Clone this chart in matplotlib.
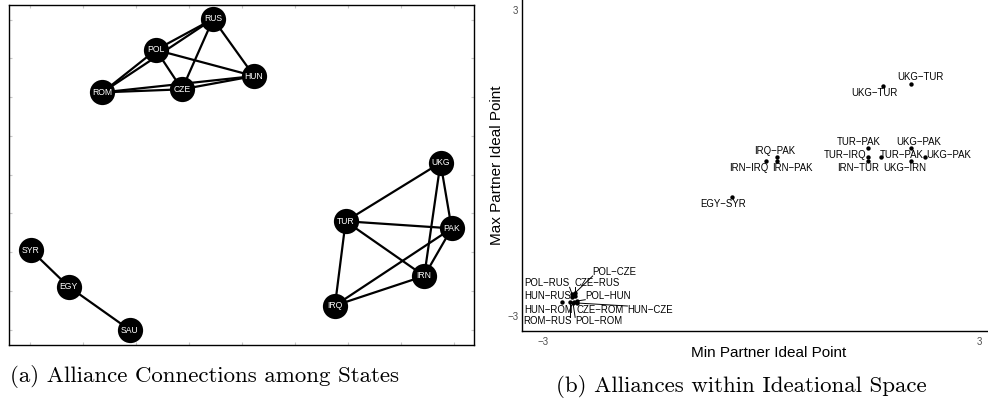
import numpy as np
import matplotlib.pyplot as plt

plt.rcParams['font.family'] = ['Liberation Sans', 'DejaVu Sans']

# ---- alliance network: node layout (normalised) ----
states = ['RUS', 'POL', 'HUN', 'CZE', 'ROM', 'SYR', 'EGY', 'SAU',
          'TUR', 'IRQ', 'UKG', 'PAK', 'IRN']
layout_x = [0.439, 0.316, 0.527, 0.372, 0.201, 0.047, 0.128, 0.260,
            0.724, 0.701, 0.928, 0.952, 0.893]
layout_y = [0.959, 0.868, 0.791, 0.752, 0.743, 0.279, 0.172, 0.044,
            0.364, 0.116, 0.536, 0.343, 0.203]

edges = [('POL', 'CZE'), ('POL', 'RUS'), ('CZE', 'RUS'), ('HUN', 'RUS'),
         ('POL', 'HUN'), ('HUN', 'ROM'), ('CZE', 'ROM'), ('HUN', 'CZE'),
         ('ROM', 'RUS'), ('POL', 'ROM'),
         ('UKG', 'TUR'), ('TUR', 'PAK'), ('UKG', 'PAK'), ('TUR', 'IRQ'),
         ('IRN', 'TUR'), ('UKG', 'IRN'), ('IRQ', 'PAK'), ('IRN', 'PAK'),
         ('IRN', 'IRQ'),
         ('EGY', 'SYR'), ('EGY', 'SAU')]

# ---- alliances in ideal point space ----
dyads = ['UKG−TUR', 'UKG−TUR', 'TUR−PAK', 'UKG−PAK', 'TUR−IRQ', 'TUR−PAK',
         'UKG−PAK', 'IRN−TUR', 'UKG−IRN', 'IRQ−PAK', 'IRN−PAK', 'IRN−IRQ',
         'EGY−SYR', 'POL−CZE', 'POL−RUS', 'CZE−RUS', 'HUN−RUS', 'POL−HUN',
         'CZE−ROM', 'HUN−CZE', 'ROM−RUS', 'POL−ROM', 'HUN−ROM']
min_ideal = [2.06, 1.675, 1.468, 2.06, 1.468, 1.647, 2.257, 1.468, 2.06,
             0.224, 0.224, 0.069, -0.399, -2.560, -2.601, -2.560, -2.601,
             -2.532, -2.573, -2.532, -2.628, -2.587, -2.734]
max_ideal = [1.555, 1.504, 0.288, 0.288, 0.124, 0.118, 0.124, 0.033, 0.033,
             0.124, 0.033, 0.033, -0.673, -2.549, -2.569, -2.608, -2.627,
             -2.706, -2.725, -2.745, -2.725, -2.745, -2.731]

# where each label sits relative to its point (pixels: right, down)
label_shift = [(9.3, -6.4), (-8.5, 6.7), (-9, -6), (8.2, -6), (-23, -1.7),
               (21.3, -2), (23.8, -1.7), (-9.4, 7), (-6, 7), (-2.3, -6),
               (14.7, 7), (-17.7, 7), (-8.8, 7), (39.7, -21), (-25, -10.7),
               (22.3, -12.7), (-24.8, -1.3), (31, -5.3), (26, 8), (73.2, 7),
               (-22.3, 19.3), (25.7, 18.3), (-13.5, 7.7)]

W, H = 988, 405
fig = plt.figure(figsize=(W / 100, H / 100), dpi=100)

# (a) network
ax1 = fig.add_axes([9 / W, 1 - 345 / H, 465 / W, 340 / H])
pos = {s: (x, y) for s, x, y in zip(states, layout_x, layout_y)}
for a, b in edges:
    ax1.plot([pos[a][0], pos[b][0]], [pos[a][1], pos[b][1]],
             color='black', lw=1.6, zorder=1, solid_capstyle='round')
ax1.scatter(layout_x, layout_y, s=330, color='black', zorder=2, linewidths=0)
for s, x, y in zip(states, layout_x, layout_y):
    ax1.text(x, y, s, color='white', fontsize=6.2, ha='center', va='center',
             zorder=3)
ax1.set_xlim(0, 1)
ax1.set_ylim(0, 1)
ticks = np.linspace(0.045, 0.957, 9)
ax1.set_xticks(ticks)
ax1.set_yticks(ticks)
ax1.tick_params(which='both', direction='in', length=2, width=0.8,
                color='#c8c8c8', labelbottom=False, labelleft=False,
                top=True, right=True)
for sp in ax1.spines.values():
    sp.set_linewidth(1.0)

# (b) ideal point scatter
ax2 = fig.add_axes([522 / W, 1 - 331 / H, 494 / W, 331 / H])
ax2.scatter(min_ideal, max_ideal, s=10, color='black', zorder=3, linewidths=0)
labels = []
for name, x, y, (dx, dy) in zip(dyads, min_ideal, max_ideal, label_shift):
    t = ax2.annotate(name, (x, y), xytext=(dx * 0.72, -dy * 0.72),
                     textcoords='offset points', ha='center', va='center',
                     fontsize=6.9, color='black', zorder=4)
    labels.append(t)
ax2.set_xlim(-3.289, 3.509)
ax2.set_ylim(-3.294, 3.196)
ax2.set_xticks([-3, 3])
ax2.set_yticks([-3, 3])
ax2.tick_params(length=0, labelsize=7, labelcolor='#4d4d4d')
ax2.tick_params(axis='x', pad=4)
ax2.tick_params(axis='y', pad=2.5)
ax2.spines['top'].set_visible(False)
ax2.spines['right'].set_visible(False)
for sp in ('left', 'bottom'):
    ax2.spines[sp].set_linewidth(1.0)
ax2.set_xlabel('Min Partner Ideal Point', fontsize=11)
ax2.set_ylabel('Max Partner Ideal Point', fontsize=11)
ax2.xaxis.set_label_coords(0.5, -0.045)
ax2.yaxis.set_label_coords(-0.036, 0.5)

# connector segments for labels pushed away from their points
fig.canvas.draw()
renderer = fig.canvas.get_renderer()
to_data = ax2.transData.inverted()
for t, x, y in zip(labels, min_ideal, max_ideal):
    bb = t.get_window_extent(renderer)
    px, py = ax2.transData.transform((x, y))
    qx = min(max(px, bb.x0), bb.x1)
    qy = min(max(py, bb.y0 + 1), bb.y1 - 1)
    if np.hypot(qx - px, qy - py) > 5:
        (x0, y0), (x1, y1) = to_data.transform([(px, py), (qx, qy)])
        ax2.plot([x0, x1], [y0, y1], color='black', lw=0.7, zorder=2)

fig.text(205 / W, 1 - 376 / H, '(a) Alliance Connections among States',
         family='cmr10', fontsize=16.5, ha='center', va='center')
fig.text(741 / W, 1 - 387 / H, '(b) Alliances within Ideational Space',
         family='cmr10', fontsize=16.5, ha='center', va='center')

fig.savefig('out.png', dpi=100)
